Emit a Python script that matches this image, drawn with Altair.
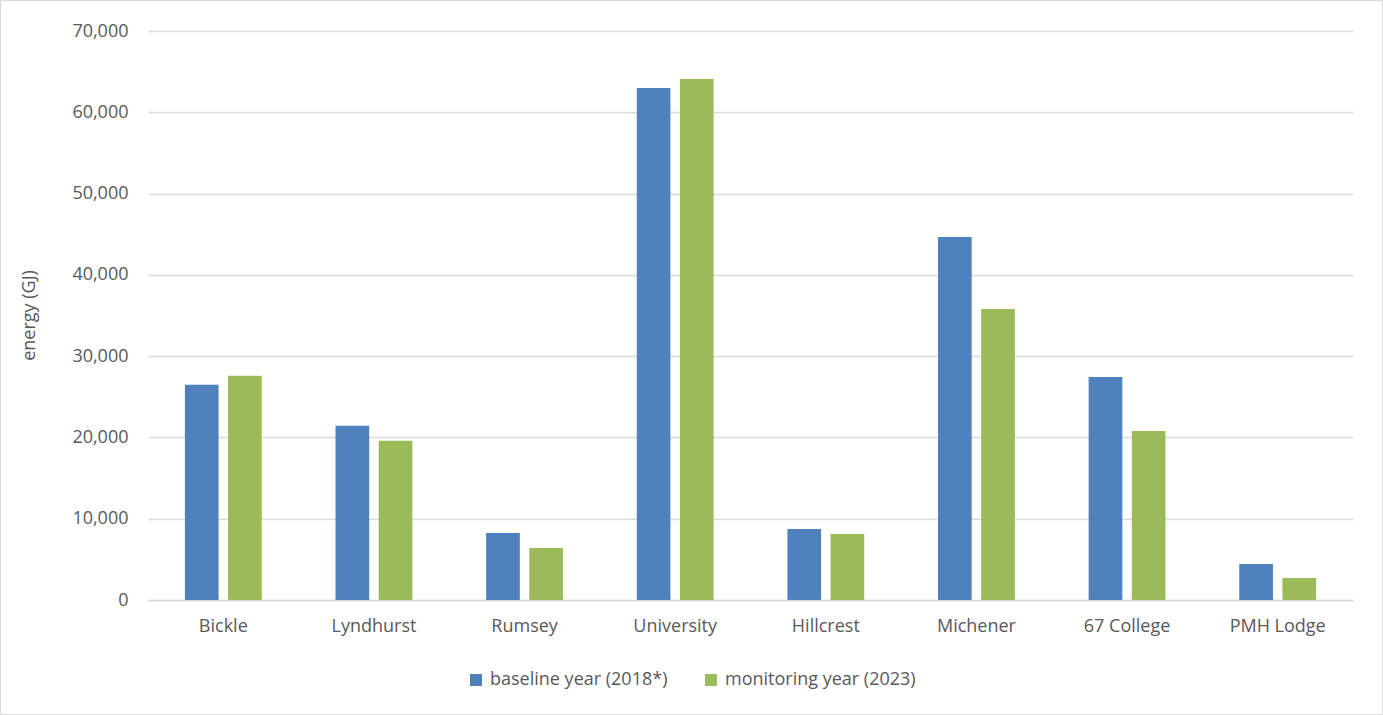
import altair as alt
import pandas as pd

categories = ["Bickle", "Lyndhurst", "Rumsey", "University", "Hillcrest", "Michener", "67 College", "PMH Lodge"]
baseline = [26470, 21430, 8240, 62980, 8730, 44650, 27430, 4430]
monitoring = [27580, 19580, 6400, 64080, 8120, 35800, 20790, 2710]
series_names = ["baseline year (2018*)", "monitoring year (2023)"]
colors = ["#4f81bd", "#9bbb59"]
y_ticks = [0, 10000, 20000, 30000, 40000, 50000, 60000, 70000]

rows = []
for c, b, m in zip(categories, baseline, monitoring):
    rows.append({"building": c, "series": series_names[0], "energy": b})
    rows.append({"building": c, "series": series_names[1], "energy": m})
df = pd.DataFrame(rows)

font = "Open Sans"
grey = "#595959"
fs = 18

bars = alt.Chart(df).mark_bar().encode(
    x=alt.X("building:N", sort=categories,
            scale=alt.Scale(paddingInner=0.49, paddingOuter=0.245),
            axis=alt.Axis(title=None, labelAngle=0, ticks=False, domain=True,
                          domainColor="#d9d9d9", domainWidth=1.5, labelPadding=17,
                          labelFontSize=fs, labelColor=grey, labelFont=font)),
    xOffset=alt.XOffset("series:N", sort=series_names,
                        scale=alt.Scale(paddingInner=0.22, paddingOuter=0)),
    y=alt.Y("energy:Q", scale=alt.Scale(domain=[0, 70000]),
            axis=alt.Axis(title="energy (GJ)", values=y_ticks, format=",.0f",
                          ticks=False, domain=False, grid=True, gridColor="#d9d9d9",
                          gridWidth=1.5, labelPadding=20, labelFontSize=fs,
                          labelColor=grey, labelFont=font,
                          titleFont=font, titleFontSize=fs, titleColor=grey,
                          titleFontWeight="normal", titleX=-119, titleY=284,
                          titleAngle=-90, titleAlign="center", titleBaseline="middle")),
    color=alt.Color("series:N", sort=series_names,
                    scale=alt.Scale(domain=series_names, range=colors),
                    legend=alt.Legend(title=None, orient="none", direction="horizontal",
                                      legendX=319, legendY=640, symbolType="square",
                                      symbolSize=144, symbolStrokeWidth=0,
                                      labelFontSize=fs, labelColor=grey, labelFont=font,
                                      labelLimit=400, columnPadding=34, labelOffset=5)),
)

border = alt.Chart(pd.DataFrame({"a": [0]})).mark_rect(
    fill=None, stroke="#d9d9d9", strokeWidth=1, clip=False
).encode(x=alt.value(-147.5), x2=alt.value(1234.5), y=alt.value(-30.5), y2=alt.value(683.5))

chart = alt.layer(bars, border).properties(
    width=1205, height=569,
    autosize=alt.AutoSizeParams(type="none"),
    padding={"left": 148, "top": 31, "right": 30, "bottom": 115},
    background="white",
).configure_view(stroke=None)

chart.save("out.html", embed_options={"renderer": "svg", "actions": False})
